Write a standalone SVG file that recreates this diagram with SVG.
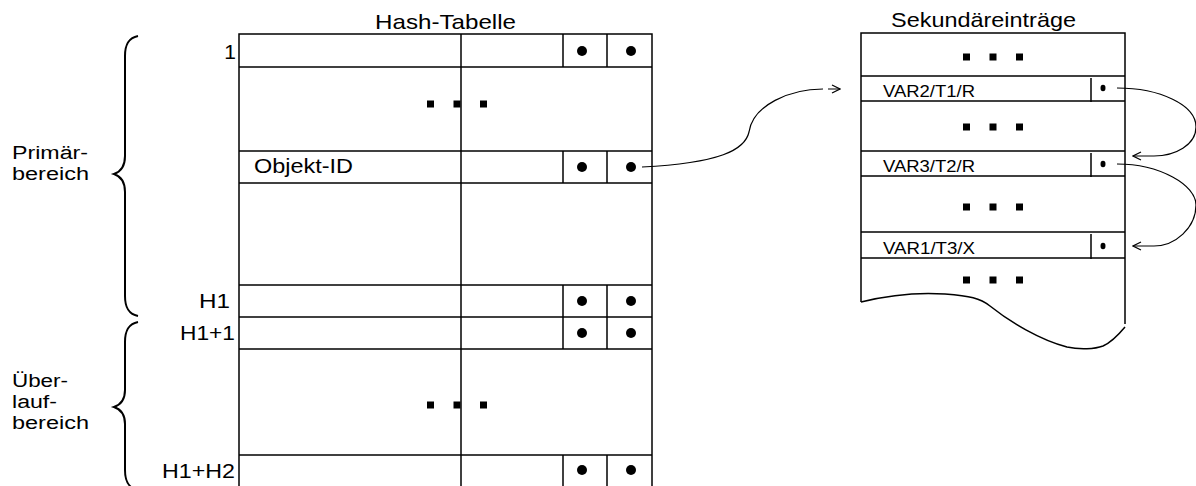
<svg xmlns="http://www.w3.org/2000/svg" width="1196" height="486" viewBox="0 0 1196 486">
<defs>
<style>
.ln{fill:none;stroke:#000;stroke-width:1.5}
.thin{fill:none;stroke:#000;stroke-width:1.2}
.br{fill:none;stroke:#000;stroke-width:2}
.t{font-family:"Liberation Sans",Arial,sans-serif;font-size:21px;fill:#000}
.tl{font-family:"Liberation Sans",Arial,sans-serif;font-size:18px;fill:#000}
.ts{font-family:"Liberation Sans",Arial,sans-serif;font-size:16px;fill:#000}
</style>
<marker id="arr" viewBox="0 0 10 10" refX="9" refY="5" markerWidth="10" markerHeight="10" markerUnits="userSpaceOnUse" orient="auto">
<path d="M1,1 L9,5 L1,9" fill="none" stroke="#000" stroke-width="1.2"/>
</marker>
<g id="ell"><rect x="-30" y="-3.5" width="7" height="7"/><rect x="-3.5" y="-3.5" width="7" height="7"/><rect x="23" y="-3.5" width="7" height="7"/></g>
</defs>
<rect width="1196" height="486" fill="#fff"/>

<g id="labels">
<text class="t" x="375" y="29" textLength="141" lengthAdjust="spacingAndGlyphs">Hash-Tabelle</text>
<text class="t" x="891" y="27" textLength="185" lengthAdjust="spacingAndGlyphs">Sekundäreinträge</text>
<text class="tl" x="12" y="159" textLength="76" lengthAdjust="spacingAndGlyphs">Primär-</text>
<text class="tl" x="12" y="180" textLength="77" lengthAdjust="spacingAndGlyphs">bereich</text>
<text class="tl" x="12" y="387" textLength="56" lengthAdjust="spacingAndGlyphs">Über-</text>
<text class="tl" x="12" y="408" textLength="45" lengthAdjust="spacingAndGlyphs">lauf-</text>
<text class="tl" x="12" y="429" textLength="77" lengthAdjust="spacingAndGlyphs">bereich</text>
</g>

<g id="braces">
<path class="br" d="M138,36 C128,38 125,45 125,56 L125,156 C125,167 120,172 114,174 C120,176 125,181 125,192 L125,296 C125,307 128,314 138,316"/>
<path class="br" d="M138,322 C128,324 125,331 125,342 L125,390 C125,400 120,405 114,407 C120,409 125,414 125,424 L125,470 C125,481 128,488 138,490"/>
</g>

<g id="hash-table">
<rect class="ln" x="239" y="34" width="413" height="460"/>
<line class="ln" x1="461" y1="34" x2="461" y2="490"/>
<line class="ln" x1="239" y1="67" x2="652" y2="67"/>
<line class="ln" x1="239" y1="151" x2="652" y2="151"/>
<line class="ln" x1="239" y1="183" x2="652" y2="183"/>
<line class="ln" x1="239" y1="285" x2="652" y2="285"/>
<line class="ln" x1="239" y1="317" x2="652" y2="317"/>
<line class="ln" x1="239" y1="349" x2="652" y2="349"/>
<line class="ln" x1="239" y1="455" x2="652" y2="455"/>
<use href="#ell" x="457" y="104"/>
<use href="#ell" x="457" y="405"/>
</g>

<g id="row-1">
<text class="t" x="236" y="59" text-anchor="end">1</text>
<line class="ln" x1="563" y1="34" x2="563" y2="67"/><line class="ln" x1="607" y1="34" x2="607" y2="67"/>
<circle cx="582" cy="51" r="5"/><circle cx="631" cy="51" r="5"/>
</g>
<g id="row-objekt-id">
<text class="t" x="254" y="173" textLength="99" lengthAdjust="spacingAndGlyphs">Objekt-ID</text>
<line class="ln" x1="563" y1="151" x2="563" y2="183"/><line class="ln" x1="607" y1="151" x2="607" y2="183"/>
<circle cx="582" cy="167" r="5"/><circle cx="631" cy="167" r="5"/>
</g>
<g id="row-h1">
<text class="t" x="199" y="308" textLength="31" lengthAdjust="spacingAndGlyphs">H1</text>
<line class="ln" x1="563" y1="285" x2="563" y2="317"/><line class="ln" x1="607" y1="285" x2="607" y2="317"/>
<circle cx="582" cy="301" r="5"/><circle cx="631" cy="301" r="5"/>
</g>
<g id="row-h1-1">
<text class="t" x="180" y="340" textLength="55" lengthAdjust="spacingAndGlyphs">H1+1</text>
<line class="ln" x1="563" y1="317" x2="563" y2="349"/><line class="ln" x1="607" y1="317" x2="607" y2="349"/>
<circle cx="582" cy="333" r="5"/><circle cx="631" cy="333" r="5"/>
</g>
<g id="row-h1-h2">
<text class="t" x="162" y="478" textLength="73" lengthAdjust="spacingAndGlyphs">H1+H2</text>
<line class="ln" x1="563" y1="455" x2="563" y2="490"/><line class="ln" x1="607" y1="455" x2="607" y2="490"/>
<circle cx="582" cy="470" r="5"/><circle cx="631" cy="470" r="5"/>
</g>

<g id="secondary">
<path class="ln" d="M861,302 L861,33 L1125,33 L1125,324"/>
<path class="ln" d="M861,302 C885,296 915,292 945,294 C970,296 980,298 990,306 C1010,322 1040,340 1067,347 C1080,350 1095,349 1103,346 C1112,342 1120,333 1125,327"/>
<line class="ln" x1="861" y1="76" x2="1125" y2="76"/>
<line class="ln" x1="861" y1="101" x2="1125" y2="101"/>
<line class="ln" x1="861" y1="151" x2="1125" y2="151"/>
<line class="ln" x1="861" y1="176" x2="1125" y2="176"/>
<line class="ln" x1="861" y1="232" x2="1125" y2="232"/>
<line class="ln" x1="861" y1="258" x2="1125" y2="258"/>
<use href="#ell" x="993" y="57"/>
<use href="#ell" x="993" y="127"/>
<use href="#ell" x="993" y="207"/>
<use href="#ell" x="993" y="280"/>
</g>
<g id="entry-var2">
<text class="ts" x="883" y="97" textLength="92" lengthAdjust="spacingAndGlyphs">VAR2/T1/R</text>
<line class="ln" x1="1091" y1="78" x2="1091" y2="102"/>
<ellipse cx="1103" cy="88" rx="2.5" ry="3.2"/>
</g>
<g id="entry-var3">
<text class="ts" x="883" y="172" textLength="92" lengthAdjust="spacingAndGlyphs">VAR3/T2/R</text>
<line class="ln" x1="1091" y1="153" x2="1091" y2="177"/>
<ellipse cx="1103" cy="164" rx="2.5" ry="3.2"/>
</g>
<g id="entry-var1">
<text class="ts" x="883" y="254" textLength="92" lengthAdjust="spacingAndGlyphs">VAR1/T3/X</text>
<line class="ln" x1="1091" y1="234" x2="1091" y2="259"/>
<ellipse cx="1103" cy="246" rx="2.5" ry="3.2"/>
</g>

<g id="connectors">
<path class="thin" marker-end="url(#arr)" d="M642,167 C720,163 745,150 749,132 C753,105 790,89 823,89 M828,89 L840,89"/>
<path class="thin" marker-end="url(#arr)" d="M1117,88 C1160,88 1196,105 1196,127 C1196,145 1175,156 1154,156 L1133,156"/>
<path class="thin" marker-end="url(#arr)" d="M1117,164 C1160,164 1196,185 1196,205 C1196,228 1175,246 1154,246 L1133,246"/>
</g>
</svg>
